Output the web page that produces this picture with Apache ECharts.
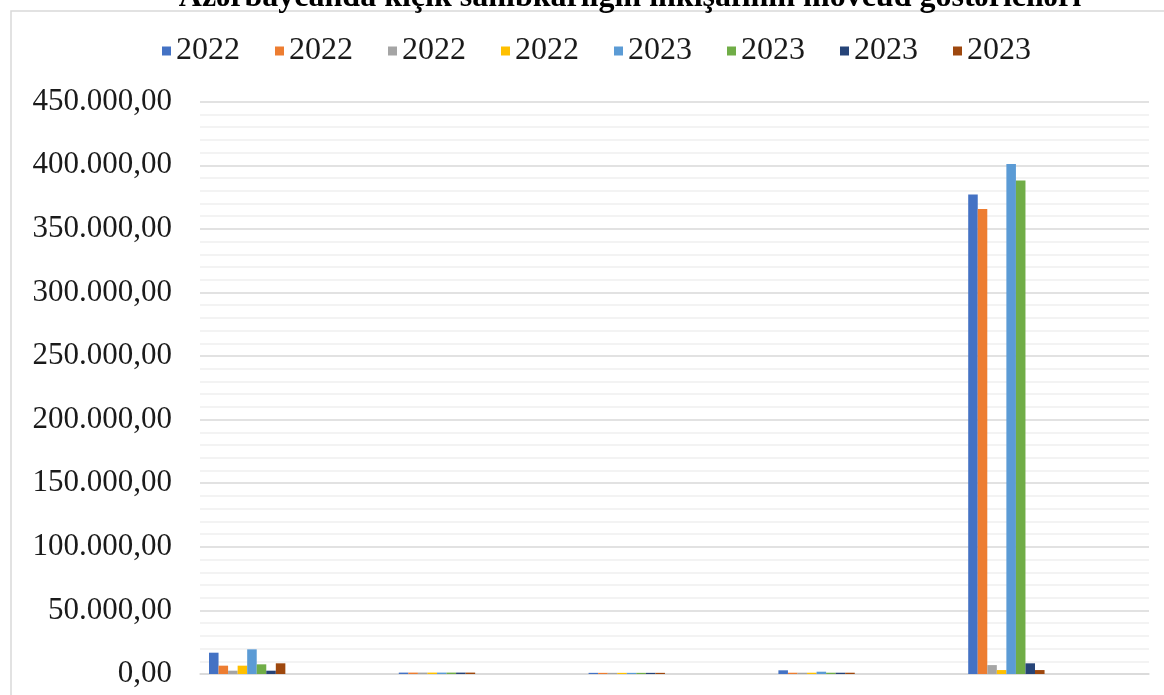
<!DOCTYPE html>
<html>
<head>
<meta charset="utf-8">
<script src="https://cdn.jsdelivr.net/npm/echarts@6/dist/echarts.min.js"></script>
<style>
html,body{margin:0;padding:0;background:#fff;}
#chart{width:1164px;height:695px;}
</style>
</head>
<body>
<div id="chart"></div>
<script>
const titleText = 'Azərbaycanda kiçik sahibkarlığın inkişafının mövcud göstəriciləri';
const categories = ['1', '2', '3', '4', '5'];
const seriesLabels = ['2022', '2022', '2022', '2022', '2023', '2023', '2023', '2023'];
const colors = ['#4472C4', '#ED7D31', '#A5A5A5', '#FFC000', '#5B9BD5', '#70AD47', '#264478', '#9E480E'];
const s1 = [16750, 1100, 900, 2900, 377000];
const s2 = [6550, 1100, 900, 1000, 365700];
const s3 = [2600, 1100, 900, 1000, 7000];
const s4 = [6550, 1100, 900, 1000, 3100];
const s5 = [19400, 1100, 900, 1800, 401000];
const s6 = [7600, 1100, 900, 1000, 388000];
const s7 = [2600, 1100, 900, 1000, 8400];
const s8 = [8400, 1100, 900, 1000, 3100];
const seriesValues = [s1, s2, s3, s4, s5, s6, s7, s8];
const yMax = 450000;
const yInterval = 50000;

function fmt(v) {
  const int = Math.round(v).toString().replace(/\B(?=(\d{3})+(?!\d))/g, '.');
  return int + ',00';
}

// unique names so that legend shows every entry
const names = seriesLabels.map((l, i) => l + ' '.repeat(i % 4));
const series = names.map((n, i) => ({
  name: n,
  type: 'bar',
  data: seriesValues[i],
  barGap: 0,
  barCategoryGap: 18,
  itemStyle: { color: colors[i] }
}));
// empty placeholder series (keeps clusters left-aligned as in the original)
for (let k = 0; k < 10; k++) {
  series.push({ name: '_p' + k, type: 'bar', data: categories.map(() => null), barGap: 0, barCategoryGap: 18 });
}

const chart = echarts.init(document.getElementById('chart'));
chart.setOption({
  animation: false,
  backgroundColor: '#fff',
  textStyle: { fontFamily: 'Liberation Serif' },
  graphic: [
    { type: 'rect', shape: { x: 11, y: 11, width: 1400, height: 900 }, style: { fill: null, stroke: '#d9d9d9', lineWidth: 1.5 }, z: -10, silent: true },
    { type: 'text', x: 630, y: 14, style: { text: titleText, font: 'bold 32px "Liberation Serif"', fill: '#000', align: 'center', verticalAlign: 'bottom' }, silent: true }
  ],
  legend: {
    data: names,
    left: 157,
    top: 30,
    itemWidth: 9,
    itemHeight: 9,
    itemGap: 35,
    icon: 'rect',
    formatter: n => n.trim(),
    textStyle: { fontFamily: 'Liberation Serif', fontSize: 32, color: '#1a1a1a' }
  },
  grid: { left: 200, right: 15, top: 101.7, bottom: 21 },
  xAxis: {
    type: 'category',
    data: categories,
    axisLine: { lineStyle: { color: '#d9d9d9', width: 1.5 } },
    axisTick: { show: false },
    axisLabel: { show: false }
  },
  yAxis: {
    type: 'value',
    min: 0,
    max: yMax,
    interval: yInterval,
    axisLine: { show: false },
    axisTick: { show: false },
    axisLabel: { formatter: fmt, fontFamily: 'Liberation Serif', fontSize: 31, color: '#1a1a1a', margin: 28 },
    splitLine: { lineStyle: { color: '#d9d9d9', width: 1.5 } },
    minorTick: { show: false, splitNumber: 5 },
    minorSplitLine: { show: true, lineStyle: { color: '#f0f0f0', width: 1.5 } }
  },
  series: series
});
</script>
</body>
</html>
